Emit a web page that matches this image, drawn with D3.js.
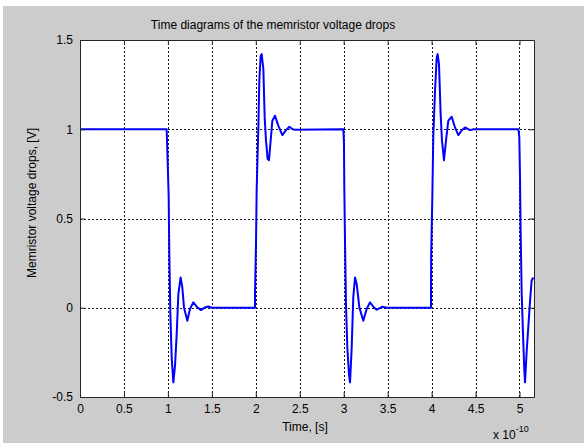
<!DOCTYPE html>
<html>
<head>
<meta charset="utf-8">
<script src="https://cdn.jsdelivr.net/npm/d3@7"></script>
<style>
  html, body { margin: 0; padding: 0; background: #ffffff; }
  svg { display: block; }
  text { font-family: "Liberation Sans", Arial, Helvetica, sans-serif; fill: #000; }
</style>
</head>
<body>
<svg id="chart" width="584" height="443"></svg>
<script>
// Time axis in units of 1e-10 s
const xTicks = [0, 0.5, 1, 1.5, 2, 2.5, 3, 3.5, 4, 4.5, 5];
const yTicks = [-0.5, 0, 0.5, 1, 1.5];
const xDomain = [0, 5.165];
const yDomain = [-0.5, 1.5];

// Memristor voltage drop samples: time (x1e-10 s) and voltage (V)
const timeValues = [
  0, 0.986,
  0.993, 1.009, 1.016, 1.028, 1.043, 1.062, 1.081, 1.100, 1.119, 1.145, 1.164, 1.183,
  1.221, 1.251, 1.289, 1.335, 1.377, 1.422, 1.460, 1.498, 1.991,
  1.991, 2.002, 2.010, 2.029, 2.040, 2.055, 2.067, 2.086, 2.101, 2.116, 2.135, 2.150,
  2.169, 2.188, 2.218, 2.256, 2.302, 2.344, 2.382, 2.419, 2.446, 2.996,
  3.003, 3.007, 3.015, 3.026, 3.041, 3.060, 3.072, 3.091, 3.109, 3.129, 3.148, 3.178,
  3.223, 3.261, 3.299, 3.337, 3.375, 3.443, 3.489, 3.993,
  3.995, 4.008, 4.019, 4.039, 4.058, 4.069, 4.084, 4.103, 4.118, 4.141, 4.164, 4.190,
  4.229, 4.266, 4.304, 4.342, 4.380, 4.437, 4.475, 4.987,
  4.998, 5.006, 5.013, 5.025, 5.044, 5.055, 5.063, 5.082, 5.100, 5.119, 5.138, 5.157
];
const voltageValues = [
  1, 1,
  0.889, 0.618, 0.301, -0.036, -0.278, -0.418, -0.325, -0.148, 0.077, 0.170, 0.114, 0.002,
  -0.073, -0.007, 0.030, 0.002, -0.013, 0.002, 0.007, 0, 0,
  0.086, 0.347, 0.665, 1.010, 1.272, 1.410, 1.421, 1.337, 1.066, 0.936, 0.833, 0.827,
  0.936, 1.048, 1.076, 1.020, 0.967, 0.995, 1.014, 1.000, 0.997, 1,
  0.926, 0.674, 0.366, 0.020, -0.222, -0.372, -0.418, -0.222, 0.058, 0.170, 0.133, 0.002,
  -0.073, -0.007, 0.030, 0.006, -0.011, 0.006, 0, 0,
  0.300, 0.610, 0.954, 1.216, 1.400, 1.421, 1.365, 1.085, 0.936, 0.827, 0.936, 1.048,
  1.070, 1.010, 0.967, 0.993, 1.010, 0.995, 1.000, 1,
  0.954, 0.721, 0.422, 0.077, -0.203, -0.353, -0.418, -0.241, -0.110, 0.030, 0.151, 0.170
];

const titleText = "Time diagrams of the memristor voltage drops";
const xLabelText = "Time, [s]";
const yLabelText = "Memristor voltage drops, [V]";

const svg = d3.select("#chart");
const W = 584, H = 443;
const plotLeft = 80, plotRight = 534, plotTop = 40, plotBottom = 397;

// figure background
svg.append("rect").attr("x", 3).attr("y", 6).attr("width", W - 3).attr("height", H - 6)
  .attr("fill", "#cccccc");

const x = d3.scaleLinear().domain(xDomain).range([plotLeft, plotRight]);
const y = d3.scaleLinear().domain(yDomain).range([plotBottom, plotTop]);

// axes area
svg.append("rect").attr("x", plotLeft).attr("y", plotTop)
  .attr("width", plotRight - plotLeft).attr("height", plotBottom - plotTop).attr("fill", "#ffffff");

// grid lines
const grid = svg.append("g").attr("class", "grid");
grid.append("g")
  .attr("transform", `translate(0,${plotBottom})`)
  .call(d3.axisBottom(x).tickValues(xTicks.filter(d => d > xDomain[0]))
    .tickSize(-(plotBottom - plotTop)).tickFormat(""))
  .call(g => g.select(".domain").remove());
grid.append("g")
  .attr("transform", `translate(${plotLeft},0)`)
  .call(d3.axisLeft(y).tickValues(yTicks.filter(d => d > yDomain[0] && d < yDomain[1]))
    .tickSize(-(plotRight - plotLeft)).tickFormat(""))
  .call(g => g.select(".domain").remove());
grid.selectAll("line")
  .attr("stroke", "#1a1a1a").attr("stroke-width", 1).attr("stroke-dasharray", "2,2")
  .attr("shape-rendering", "crispEdges");

// signal
svg.append("clipPath").attr("id", "plotClip")
  .append("rect").attr("x", plotLeft).attr("y", plotTop)
  .attr("width", plotRight - plotLeft).attr("height", plotBottom - plotTop);

const points = timeValues.map((t, i) => [t, voltageValues[i]]);
const line = d3.line().x(d => x(d[0])).y(d => y(d[1]));
svg.append("path")
  .datum(points)
  .attr("clip-path", "url(#plotClip)")
  .attr("fill", "none")
  .attr("stroke", "#0000ff")
  .attr("stroke-width", 2)
  .attr("stroke-linejoin", "round")
  .attr("d", line);

// axes with inward ticks
const fmt = d => String(d);
const axB = svg.append("g").attr("transform", `translate(0,${plotBottom})`)
  .call(d3.axisBottom(x).tickValues(xTicks).tickSizeInner(-5).tickSizeOuter(0)
    .tickPadding(7).tickFormat(fmt));
const axT = svg.append("g").attr("transform", `translate(0,${plotTop})`)
  .call(d3.axisTop(x).tickValues(xTicks).tickSizeInner(-5).tickSizeOuter(0).tickFormat(""));
const axL = svg.append("g").attr("transform", `translate(${plotLeft},0)`)
  .call(d3.axisLeft(y).tickValues(yTicks).tickSizeInner(-5).tickSizeOuter(0)
    .tickPadding(7).tickFormat(fmt));
const axR = svg.append("g").attr("transform", `translate(${plotRight},0)`)
  .call(d3.axisRight(y).tickValues(yTicks).tickSizeInner(-5).tickSizeOuter(0).tickFormat(""));

[axB, axT, axL, axR].forEach(g => {
  g.selectAll(".domain").attr("stroke", "#262626").attr("stroke-width", 1);
  g.selectAll(".tick line").attr("stroke", "#262626");
  g.selectAll("text").attr("font-size", 12)
    .attr("font-family", "'Liberation Sans', Arial, sans-serif").attr("fill", "#000");
});
axB.selectAll(".tick text").attr("dy", "0.71em");

// titles
svg.append("text").attr("x", 273).attr("y", 29)
  .attr("text-anchor", "middle").attr("font-size", 12).text(titleText);
svg.append("text").attr("x", 305).attr("y", 431)
  .attr("text-anchor", "middle").attr("font-size", 12).text(xLabelText);
svg.append("text")
  .attr("transform", `translate(36,203) rotate(-90)`)
  .attr("text-anchor", "middle").attr("font-size", 12).text(yLabelText);

// exponent multiplier
const expo = svg.append("text").attr("x", 493).attr("y", 439).attr("font-size", 12);
expo.append("tspan").text("x 10");
expo.append("tspan").attr("dy", -7).attr("font-size", 9).text("-10");
</script>
</body>
</html>
